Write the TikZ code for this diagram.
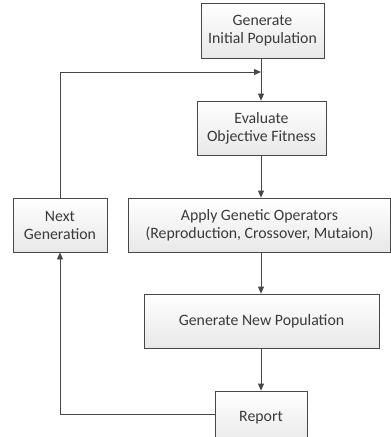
\documentclass[tikz,border=0pt]{standalone}
\usepackage{fontspec}
\setmainfont{Carlito}
\usetikzlibrary{arrows.meta,positioning}

\definecolor{linegray}{HTML}{474747}
\definecolor{textgray}{HTML}{3A3A3A}

\tikzset{
  stage/.style={draw=linegray, thick, top color=white, bottom color=gray!18,
    text=textgray, align=center, inner sep=0pt,
    font=\fontsize{15.8}{18}\selectfont},
  flow/.style={draw=linegray, thick, -{Triangle[length=7pt,width=6pt]}}
}

\begin{document}
\begin{tikzpicture}[x=1pt,y=-1pt]

\useasboundingbox (0,0) rectangle (391,437); %% page size

\node[stage, minimum width=123pt, minimum height=55pt] (init) at (262.5,30.5)
  {Generate\\Initial Population};
\node[stage, minimum width=129pt, minimum height=54pt] (eval) at (261.5,128)
  {Evaluate\\Objective Fitness};
\node[stage, minimum width=262pt, minimum height=54pt] (apply) at (259.5,225)
  {Apply Genetic Operators\\(Reproduction, Crossover, Mutaion)};
\node[stage, minimum width=94pt, minimum height=54pt] (next) at (60,225)
  {Next\\Generation};
\node[stage, minimum width=235pt, minimum height=54pt] (newpop) at (261.5,321)
  {Generate New Population};
\node[stage, minimum width=92pt, minimum height=54pt] (report) at (261,418)
  {Report};

\coordinate (join) at (261,72);

\draw[flow] (init.south -| join) -- (eval.north -| join);
\draw[flow] (next) |- (join);
\draw[flow] (eval.south -| join) -- (apply.north -| join);
\draw[flow] (apply.south -| join) -- (newpop.north -| join);
\draw[flow] (newpop.south -| join) -- (report.north -| join);
\draw[flow] (report.west) ++(0,-4) -| (next.south);

\end{tikzpicture}
\end{document}
